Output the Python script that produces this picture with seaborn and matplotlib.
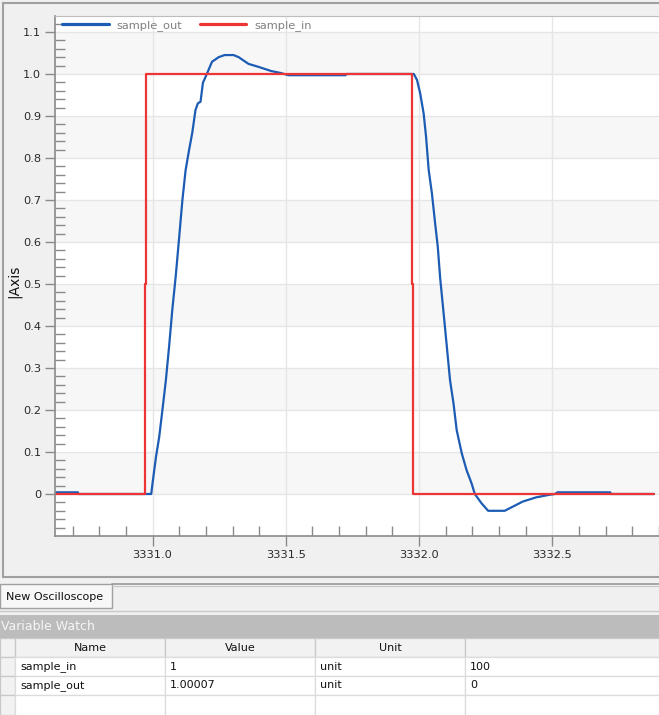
import numpy as np
import pandas as pd
import matplotlib
matplotlib.use("Agg")
import matplotlib.pyplot as plt
import seaborn as sns
from matplotlib.patches import Rectangle
from matplotlib.lines import Line2D

# sample_out trace (time, value)
out_t = [3330.634, 3330.720, 3330.722, 3330.995, 3331.000, 3331.013, 3331.025, 3331.037,
         3331.050, 3331.062, 3331.074, 3331.087, 3331.099, 3331.112, 3331.124, 3331.137,
         3331.149, 3331.161, 3331.170, 3331.180, 3331.189, 3331.205, 3331.223, 3331.248,
         3331.270, 3331.304, 3331.323, 3331.360, 3331.397, 3331.445, 3331.483, 3331.510,
         3331.724, 3331.728, 3331.980, 3331.992, 3332.004, 3332.017, 3332.026, 3332.036,
         3332.048, 3332.060, 3332.070, 3332.079, 3332.092, 3332.104, 3332.116, 3332.129,
         3332.141, 3332.160, 3332.178, 3332.197, 3332.209, 3332.234, 3332.259, 3332.321,
         3332.352, 3332.389, 3332.439, 3332.488, 3332.510, 3332.519, 3332.717, 3332.720,
         3332.881]
out_v = [0.004, 0.004, 0.0, 0.0, 0.026, 0.089, 0.136, 0.200,
         0.271, 0.351, 0.438, 0.519, 0.605, 0.700, 0.771, 0.819,
         0.860, 0.914, 0.930, 0.934, 0.979, 1.002, 1.029, 1.040,
         1.045, 1.045, 1.040, 1.024, 1.017, 1.007, 1.002, 0.997,
         0.997, 1.0, 1.0, 0.986, 0.954, 0.906, 0.851, 0.771,
         0.716, 0.645, 0.589, 0.514, 0.430, 0.351, 0.271, 0.216,
         0.152, 0.097, 0.057, 0.025, 0.0, -0.022, -0.040, -0.040,
         -0.030, -0.018, -0.008, -0.002, 0.0, 0.004, 0.004, 0.0,
         0.0]

# sample_in step
in_t = [3330.634, 3330.971, 3330.971, 3330.977, 3330.977, 3331.972, 3331.972,
        3331.978, 3331.978, 3332.881]
in_v = [0, 0, 0.5, 0.5, 1, 1, 0.5, 0.5, 0, 0]

x_ticks = [3331.0, 3331.5, 3332.0, 3332.5]
x_tick_labels = ["3331.0", "3331.5", "3332.0", "3332.5"]
y_ticks = [0, 0.1, 0.2, 0.3, 0.4, 0.5, 0.6, 0.7, 0.8, 0.9, 1.0, 1.1]
y_tick_labels = ["0", "0.1", "0.2", "0.3", "0.4", "0.5", "0.6", "0.7", "0.8", "0.9", "1.0", "1.1"]

# variable watch table
watch_header = ["Name", "Value", "Unit", ""]
watch_names = ["sample_in", "sample_out"]
watch_values = ["1", "1.00007"]
watch_units = ["unit", "unit"]
watch_extra = ["100", "0"]

blue = "#1c5cb4"
red = "#ee3535"

sns.set_style("white")
plt.rcParams["font.family"] = ["DejaVu Sans"]

W, H = 659, 715
fig = plt.figure(figsize=(W / 100, H / 100), dpi=100)
fig.patch.set_facecolor("#f0f0f0")

# background layer in pixel coords for the window chrome
bg = fig.add_axes([0, 0, 1, 1], zorder=-1)
bg.set_xlim(0, W)
bg.set_ylim(H, 0)
bg.axis("off")

def rect(x, y, w, h, fc, ec="none", lw=0.8):
    bg.add_patch(Rectangle((x, y), w, h, facecolor=fc, edgecolor=ec, linewidth=lw))

rect(3, 3, 700, 574, "#f0f0f0", "#a0a0a0", 1.5)

# tab strip
bg.plot([112, W], [584, 584], color="#9a9a9a", lw=1.2)
bg.plot([112, W], [586, 586], color="#c8c8c8", lw=0.8)
rect(0, 584, 112, 24, "#f7f7f7", "#a0a0a0", 1.0)
bg.text(6, 597, "New Oscilloscope", fontsize=8, va="center", ha="left", color="#111111")
bg.plot([0, W], [611, 611], color="#c8c8c8", lw=1.0)

# variable watch
rect(0, 615, W, 23, "#bcbcbc")
bg.text(1, 627, "Variable Watch", fontsize=9, va="center", ha="left", color="#f6f6f6")
col_edges = [0, 15, 165, 315, 465, W]
row_edges = [638, 657, 676, 695, 715]
for i in range(len(row_edges) - 1):
    y0, y1 = row_edges[i], row_edges[i + 1]
    for j in range(len(col_edges) - 1):
        x0, x1 = col_edges[j], col_edges[j + 1]
        fc = "#f2f2f2" if (i == 0 or j == 0) else "white"
        ec = "#c8c8c8" if (i == 0 or j == 0) else "#dcdcdc"
        rect(x0, y0, x1 - x0, y1 - y0, fc, ec, 0.9)
for j, name in enumerate(watch_header):
    cx = (col_edges[j + 1] + col_edges[j + 2]) / 2
    bg.text(cx, 648, name, fontsize=8, ha="center", va="center", color="#111111")
rows = list(zip(watch_names, watch_values, watch_units, watch_extra))
for i, row in enumerate(rows):
    cy = (row_edges[i + 1] + row_edges[i + 2]) / 2
    for j, val in enumerate(row):
        bg.text(col_edges[j + 1] + 5, cy, val, fontsize=8, ha="left", va="center", color="#111111")

# scope plot
ax = fig.add_axes([55 / W, 1 - 536 / H, (W - 55) / W, 520 / H], zorder=1)
ax.set_facecolor("white")
for k in range(0, 11, 2):
    ax.axhspan(k * 0.1, (k + 1) * 0.1, color="#f7f7f7", zorder=0, lw=0)

df = pd.concat([
    pd.DataFrame({"time": out_t, "value": out_v, "signal": "sample_out"}),
    pd.DataFrame({"time": in_t, "value": in_v, "signal": "sample_in"}),
])
sns.lineplot(data=df, x="time", y="value", hue="signal",
             hue_order=["sample_out", "sample_in"],
             palette={"sample_out": blue, "sample_in": red},
             estimator=None, sort=False, linewidth=1.6, ax=ax, legend=False)

ax.set_xlim(3330.634, 3332.881)
ax.set_ylim(-0.1, 1.138)
ax.set_xticks(x_ticks)
ax.set_xticklabels(x_tick_labels)
ax.set_yticks(y_ticks)
ax.set_yticklabels(y_tick_labels)
ax.set_xticks(np.arange(3330.7, 3332.9, 0.1), minor=True)
ax.set_yticks(np.arange(-0.08, 1.14, 0.02), minor=True)
ax.grid(True, which="major", color="#e6e6e6", lw=1.0)
ax.set_axisbelow(True)
ax.tick_params(which="both", left=True, bottom=True)
ax.tick_params(which="major", direction="out", length=7, width=1, color="#8a8a8a",
               labelsize=8.2, labelcolor="#2a2a2a", pad=3)
ax.tick_params(which="minor", direction="in", length=7, width=1, color="#8a8a8a")
for s in ["left", "bottom"]:
    ax.spines[s].set_color("#8a8a8a")
    ax.spines[s].set_linewidth(1.2)
ax.spines["top"].set_color("#bdbdbd")
ax.spines["right"].set_visible(False)
ax.set_xlabel("")
ax.set_ylabel("|Axis", fontsize=10, color="#111111")
ax.yaxis.set_label_coords(-0.056, 0.49)

handles = [Line2D([], [], color=blue, lw=2.3), Line2D([], [], color=red, lw=2.3)]
ax.legend(handles, ["sample_out", "sample_in"], loc="upper left", bbox_to_anchor=(0.005, 1.0),
          ncol=2, frameon=False, fontsize=8.2, handlelength=4.1, handletextpad=0.7,
          columnspacing=1.5, borderaxespad=0, borderpad=0.35, labelcolor="#808080")

fig.savefig("out.png", dpi=100)
